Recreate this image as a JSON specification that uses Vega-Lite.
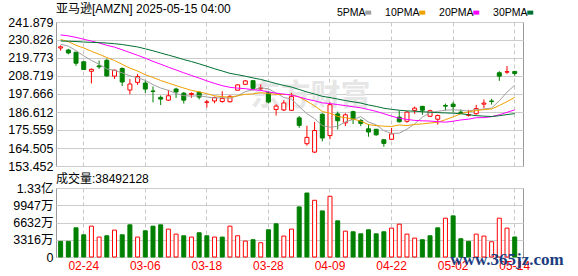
{
"$schema": "https://vega.github.io/schema/vega-lite/v6.json",
"padding": {"left": 5, "top": 2, "right": 5, "bottom": 2},
"background": "#ffffff",
"spacing": -1,
"config": {
  "font": "Liberation Sans, Noto Sans CJK SC",
  "view": {"stroke": "#999999", "strokeWidth": 1},
  "axis": {"labelFont": "Liberation Sans, Noto Sans CJK SC", "labelColor": "#000000", "ticks": false, "domain": false, "title": null, "gridColor": "#cccccc", "gridWidth": 1, "labelOverlap": false},
  "title": {"font": "Liberation Sans, Noto Sans CJK SC", "fontSize": 12, "fontWeight": "normal", "anchor": "start", "frame": "group", "color": "#000000"},
  "legend": {"labelFont": "Liberation Sans, Noto Sans CJK SC"}
},
"data": {"values": [
{"d":"02-19","o":225.9,"h":227.5,"l":224.3,"c":226.63,"v":30000000,"vd":"d","m5":228.25,"m10":231.13,"m20":233.96,"m30":230.23},
{"d":"02-20","o":224.7,"h":225.4,"l":222.0,"c":222.88,"v":30000000,"vd":"d","m5":227.04,"m10":229.80,"m20":233.35,"m30":230.07},
{"d":"02-21","o":223.3,"h":223.6,"l":215.0,"c":216.58,"v":56100000,"vd":"d","m5":224.28,"m10":227.58,"m20":232.41,"m30":229.89},
{"d":"02-24","o":217.45,"h":217.72,"l":212.42,"c":212.71,"v":42700000,"vd":"d","m5":221.09,"m10":225.93,"m20":231.30,"m30":229.57},
{"d":"02-25","o":211.63,"h":213.34,"l":204.16,"c":212.80,"v":59300000,"vd":"u","m5":218.32,"m10":223.90,"m20":230.17,"m30":229.37},
{"d":"02-26","o":214.94,"h":218.16,"l":213.09,"c":214.35,"v":38300000,"vd":"u","m5":215.86,"m10":222.06,"m20":228.98,"m30":229.23},
{"d":"02-27","o":218.35,"h":219.34,"l":208.37,"c":208.74,"v":40800000,"vd":"d","m5":213.04,"m10":220.04,"m20":227.56,"m30":228.93},
{"d":"02-28","o":208.65,"h":212.62,"l":206.99,"c":212.28,"v":51700000,"vd":"u","m5":212.18,"m10":218.23,"m20":226.44,"m30":228.56},
{"d":"03-03","o":213.35,"h":214.01,"l":202.55,"c":205.02,"v":42700000,"vd":"d","m5":210.64,"m10":215.86,"m20":224.81,"m30":228.04},
{"d":"03-04","o":200.11,"h":206.80,"l":197.43,"c":203.80,"v":61900000,"vd":"d","m5":208.84,"m10":213.58,"m20":223.13,"m30":227.30},
{"d":"03-05","o":204.80,"h":209.98,"l":203.26,"c":208.36,"v":38300000,"vd":"u","m5":207.64,"m10":211.75,"m20":221.44,"m30":226.55},
{"d":"03-06","o":204.40,"h":205.77,"l":198.30,"c":200.70,"v":50400000,"vd":"d","m5":206.03,"m10":209.53,"m20":219.67,"m30":225.41},
{"d":"03-07","o":199.49,"h":202.27,"l":192.53,"c":199.25,"v":59300000,"vd":"d","m5":203.43,"m10":207.80,"m20":217.69,"m30":224.20},
{"d":"03-10","o":195.60,"h":196.73,"l":190.85,"c":194.54,"v":61900000,"vd":"d","m5":201.33,"m10":205.98,"m20":215.96,"m30":222.86},
{"d":"03-11","o":193.90,"h":200.18,"l":193.40,"c":196.59,"v":53600000,"vd":"u","m5":199.89,"m10":204.36,"m20":214.13,"m30":221.56},
{"d":"03-12","o":200.72,"h":201.52,"l":195.29,"c":198.89,"v":44000000,"vd":"u","m5":197.99,"m10":202.82,"m20":212.44,"m30":220.25},
{"d":"03-13","o":198.17,"h":198.88,"l":191.82,"c":193.89,"v":40800000,"vd":"d","m5":196.63,"m10":201.33,"m20":210.69,"m30":218.81},
{"d":"03-14","o":197.41,"h":198.65,"l":195.32,"c":197.95,"v":38300000,"vd":"u","m5":196.37,"m10":199.90,"m20":209.07,"m30":217.59},
{"d":"03-17","o":198.77,"h":199.00,"l":194.32,"c":195.74,"v":46600000,"vd":"d","m5":196.61,"m10":198.97,"m20":207.42,"m30":216.19},
{"d":"03-18","o":192.52,"h":194.00,"l":189.38,"c":192.82,"v":40800000,"vd":"d","m5":195.86,"m10":197.87,"m20":205.73,"m30":214.71},
{"d":"03-19","o":193.38,"h":195.97,"l":191.96,"c":195.54,"v":38300000,"vd":"u","m5":195.19,"m10":196.59,"m20":204.17,"m30":213.16},
{"d":"03-20","o":193.07,"h":199.32,"l":192.30,"c":194.95,"v":38300000,"vd":"d","m5":195.40,"m10":196.02,"m20":202.78,"m30":211.78},
{"d":"03-21","o":192.90,"h":196.99,"l":192.52,"c":196.21,"v":59300000,"vd":"u","m5":195.05,"m10":195.71,"m20":201.76,"m30":210.36},
{"d":"03-24","o":200.00,"h":203.64,"l":199.95,"c":203.26,"v":40800000,"vd":"u","m5":196.56,"m10":196.58,"m20":201.28,"m30":209.50},
{"d":"03-25","o":203.60,"h":206.21,"l":203.22,"c":205.71,"v":30600000,"vd":"u","m5":199.13,"m10":197.50,"m20":200.93,"m30":208.59},
{"d":"03-26","o":205.84,"h":206.01,"l":199.93,"c":201.13,"v":33200000,"vd":"d","m5":200.25,"m10":197.72,"m20":200.27,"m30":207.53},
{"d":"03-27","o":200.89,"h":203.59,"l":199.95,"c":201.36,"v":27400000,"vd":"u","m5":201.53,"m10":198.47,"m20":199.90,"m30":206.61},
{"d":"03-28","o":198.42,"h":199.26,"l":191.88,"c":192.72,"v":52300000,"vd":"d","m5":200.84,"m10":197.94,"m20":198.92,"m30":205.36},
{"d":"03-31","o":188.19,"h":191.33,"l":184.40,"c":190.26,"v":63800000,"vd":"d","m5":198.24,"m10":197.40,"m20":198.18,"m30":204.08},
{"d":"04-01","o":187.86,"h":193.93,"l":187.20,"c":192.17,"v":40200000,"vd":"u","m5":195.53,"m10":197.33,"m20":197.60,"m30":202.93},
{"d":"04-02","o":187.66,"h":198.34,"l":187.50,"c":196.01,"v":53600000,"vd":"u","m5":194.50,"m10":197.38,"m20":196.98,"m30":201.91},
{"d":"04-03","o":183.00,"h":184.13,"l":176.92,"c":178.41,"v":96300000,"vd":"d","m5":189.91,"m10":195.72,"m20":195.87,"m30":200.42},
{"d":"04-04","o":167.15,"h":178.14,"l":166.00,"c":171.00,"v":123000000,"vd":"d","m5":185.57,"m10":193.20,"m20":194.46,"m30":198.91},
{"d":"04-07","o":162.00,"h":180.50,"l":161.38,"c":175.26,"v":109000000,"vd":"u","m5":182.57,"m10":190.40,"m20":193.49,"m30":197.66},
{"d":"04-08","o":185.23,"h":185.90,"l":168.57,"c":170.66,"v":88600000,"vd":"d","m5":178.27,"m10":186.90,"m20":192.20,"m30":196.25},
{"d":"04-09","o":172.12,"h":192.65,"l":169.93,"c":191.10,"v":116700000,"vd":"u","m5":177.29,"m10":185.90,"m20":191.81,"m30":195.48},
{"d":"04-10","o":185.44,"h":186.87,"l":175.85,"c":181.22,"v":69500000,"vd":"d","m5":177.85,"m10":183.88,"m20":191.17,"m30":194.56},
{"d":"04-11","o":179.93,"h":185.86,"l":178.00,"c":184.87,"v":49700000,"vd":"u","m5":180.62,"m10":183.10,"m20":190.52,"m30":193.65},
{"d":"04-14","o":186.84,"h":187.44,"l":179.23,"c":182.12,"v":48500000,"vd":"d","m5":181.99,"m10":182.28,"m20":189.84,"m30":192.88},
{"d":"04-15","o":181.41,"h":182.35,"l":177.93,"c":179.59,"v":44600000,"vd":"d","m5":183.78,"m10":181.02,"m20":189.18,"m30":192.08},
{"d":"04-16","o":176.29,"h":179.10,"l":171.41,"c":174.33,"v":52300000,"vd":"d","m5":180.43,"m10":178.86,"m20":188.12,"m30":190.94},
{"d":"04-17","o":176.00,"h":176.21,"l":172.00,"c":172.61,"v":44600000,"vd":"d","m5":178.70,"m10":178.28,"m20":187.00,"m30":190.01},
{"d":"04-21","o":169.60,"h":169.60,"l":165.29,"c":167.32,"v":48500000,"vd":"d","m5":175.19,"m10":177.91,"m20":185.56,"m30":188.94},
{"d":"04-22","o":169.85,"h":176.78,"l":169.35,"c":173.18,"v":55500000,"vd":"u","m5":173.41,"m10":177.70,"m20":184.05,"m30":188.23},
{"d":"04-23","o":183.45,"h":187.38,"l":180.19,"c":180.60,"v":63100000,"vd":"u","m5":173.61,"m10":178.69,"m20":182.80,"m30":187.70},
{"d":"04-24","o":180.92,"h":187.27,"l":180.00,"c":186.54,"v":44000000,"vd":"u","m5":176.05,"m10":178.24,"m20":182.07,"m30":187.28},
{"d":"04-25","o":187.62,"h":189.94,"l":185.49,"c":188.99,"v":36300000,"vd":"u","m5":179.33,"m10":179.02,"m20":181.45,"m30":187.12},
{"d":"04-28","o":190.10,"h":190.22,"l":184.89,"c":187.70,"v":33200000,"vd":"d","m5":183.40,"m10":179.30,"m20":181.20,"m30":186.78},
{"d":"04-29","o":183.99,"h":188.02,"l":183.68,"c":187.39,"v":40800000,"vd":"d","m5":186.24,"m10":179.83,"m20":181.05,"m30":186.50},
{"d":"04-30","o":182.17,"h":185.05,"l":178.85,"c":184.42,"v":56100000,"vd":"d","m5":187.01,"m10":180.31,"m20":180.67,"m30":186.22},
{"d":"05-01","o":190.63,"h":191.81,"l":187.50,"c":190.20,"v":74600000,"vd":"u","m5":187.74,"m10":181.90,"m20":180.38,"m30":186.04},
{"d":"05-02","o":191.44,"h":192.88,"l":186.40,"c":189.98,"v":79100000,"vd":"d","m5":187.94,"m10":183.63,"m20":180.95,"m30":185.88},
{"d":"05-05","o":186.51,"h":188.18,"l":185.53,"c":186.35,"v":35100000,"vd":"d","m5":187.67,"m10":185.54,"m20":181.72,"m30":185.55},
{"d":"05-06","o":184.57,"h":187.93,"l":183.85,"c":185.01,"v":30000000,"vd":"d","m5":187.19,"m10":186.72,"m20":182.21,"m30":184.94},
{"d":"05-07","o":185.56,"h":190.99,"l":185.01,"c":188.71,"v":44000000,"vd":"u","m5":188.05,"m10":187.53,"m20":183.11,"m30":184.37},
{"d":"05-08","o":191.43,"h":194.33,"l":188.82,"c":192.08,"v":40200000,"vd":"u","m5":188.43,"m10":188.08,"m20":183.16,"m30":184.07},
{"d":"05-09","o":193.37,"h":194.69,"l":191.16,"c":193.06,"v":29300000,"vd":"u","m5":189.04,"m10":188.49,"m20":183.75,"m30":183.80},
{"d":"05-12","o":210.71,"h":211.66,"l":205.75,"c":208.64,"v":74600000,"vd":"u","m5":193.50,"m10":190.58,"m20":184.94,"m30":184.33},
{"d":"05-13","o":211.08,"h":214.84,"l":210.10,"c":211.37,"v":55500000,"vd":"u","m5":198.77,"m10":192.98,"m20":186.40,"m30":185.03},
{"d":"05-14","o":211.45,"h":211.93,"l":208.85,"c":210.25,"v":38492128,"vd":"d","m5":203.08,"m10":195.57,"m20":187.94,"m30":185.63}
]},
"vconcat": [
{
  "width": 467,
  "height": 144,
  "title": {"text": "亚马逊[AMZN] 2025-05-15 04:00", "offset": 0},
  "encoding": {
    "x": {"field": "d", "type": "ordinal", "sort": "ascending",
      "scale": {"type": "band", "paddingInner": 0, "paddingOuter": 0.34, "align": 0.15, "round": false},
      "axis": {"labels": false, "ticks": false, "domain": false, "grid": true, "gridDash": [4, 3], "gridColor": "#c8c8c8", "bandPosition": 0.5, "values": ["02-24","03-06","03-18","03-28","04-09","04-22","05-02","05-14"]}}
  },
  "layer": [
    {
      "transform": [{"filter": "datum.d == '04-07'"}],
      "mark": {"type": "text", "text": "东方财富", "fontSize": 30, "fontWeight": "bold", "color": "#e6e6e6", "align": "center", "baseline": "middle", "font": "Noto Sans CJK SC", "dx": -4},
      "encoding": {"y": {"datum": 196.4, "type": "quantitative"}}
    },
    {
      "mark": {"type": "rule", "strokeWidth": 1},
      "encoding": {
        "y": {"field": "l", "type": "quantitative",
          "scale": {"domain": [153.452, 241.879], "nice": false, "zero": false},
          "axis": {"values": [153.452, 164.505, 175.559, 186.612, 197.666, 208.719, 219.773, 230.826, 241.879], "tickCount": 20, "format": ".3f", "labelFontSize": 12.5, "labelPadding": 3, "labelOverlap": false, "grid": true, "minExtent": 50, "maxExtent": 50}},
        "y2": {"field": "h"},
        "color": {"condition": {"test": "datum.c >= datum.o", "value": "#ff0000"}, "value": "#008000"}
      }
    },
    {
      "mark": {"type": "bar", "size": 4, "strokeWidth": 1},
      "encoding": {
        "y": {"field": "o", "type": "quantitative"},
        "y2": {"field": "c"},
        "fill": {"condition": {"test": "datum.c >= datum.o", "value": "#ffffff"}, "value": "#008000"},
        "stroke": {"condition": {"test": "datum.c >= datum.o", "value": "#ff0000"}, "value": "#008000"}
      }
    },
    {
      "transform": [{"fold": ["m5", "m10", "m20", "m30"], "as": ["k", "val"]}],
      "mark": {"type": "line", "strokeWidth": 1, "interpolate": "linear"},
      "encoding": {
        "y": {"field": "val", "type": "quantitative"},
        "color": {"field": "k", "type": "nominal",
          "scale": {"domain": ["m5", "m10", "m20", "m30"], "range": ["#a0a0a0", "#f0a000", "#ff00ff", "#007033"]},
          "legend": {"orient": "none", "legendX": 307, "legendY": -15, "direction": "horizontal", "title": null, "padding": 0,
            "symbolType": "stroke", "symbolSize": 36, "symbolStrokeWidth": 4,
            "labelFontSize": 10.5, "labelColor": "#000000", "labelAlign": "right", "labelOffset": -8, "columnPadding": 5,
            "labelExpr": "{'m5':'5PMA','m10':'10PMA','m20':'20PMA','m30':'30PMA'}[datum.label]"}}
      }
    }
  ]
},
{
  "width": 467,
  "height": 69,
  "title": {"text": "成交量:38492128", "offset": -4},
  "encoding": {
    "x": {"field": "d", "type": "ordinal", "sort": "ascending",
      "scale": {"type": "band", "paddingInner": 0, "paddingOuter": 0.34, "align": 0.15, "round": false},
      "axis": {"labels": true, "labelColor": "#ff0000", "labelFontSize": 12, "labelPadding": 3, "labelAngle": 0, "ticks": false, "domain": false, "grid": true, "gridDash": [4, 3], "gridColor": "#c8c8c8", "bandPosition": 0.5, "values": ["02-24","03-06","03-18","03-28","04-09","04-22","05-02","05-14"]}}
  },
  "layer": [
    {
      "mark": {"type": "bar", "size": 4, "strokeWidth": 1},
      "encoding": {
        "y": {"field": "v", "type": "quantitative",
          "scale": {"domain": [0, 132630000], "nice": false},
          "axis": {"values": [0, 33157500, 66315000, 99472500, 132630000], "tickCount": 20, "labelFontSize": 12.5, "labelPadding": 3, "labelOverlap": false, "grid": true, "minExtent": 50, "maxExtent": 50,
            "labelExpr": "datum.value == 0 ? '0' : (datum.value >= 100000000 ? format(datum.value / 100000000, '.2f') + '亿' : round(datum.value / 10000) + '万')"}},
        "fill": {"condition": {"test": "datum.vd == 'u'", "value": "#ffffff"}, "value": "#008000"},
        "stroke": {"condition": {"test": "datum.vd == 'u'", "value": "#ff0000"}, "value": "#008000"}
      }
    },
    {
      "transform": [{"filter": "datum.d == '05-13'"}],
      "mark": {"type": "text", "text": "www.365jz.com", "font": "Liberation Serif", "fontSize": 17, "fontWeight": "bold", "color": "#1c3c80", "align": "center", "baseline": "middle", "clip": false},
      "encoding": {"y": {"datum": -5000000, "type": "quantitative"}}
    }
  ]
}
]
}
